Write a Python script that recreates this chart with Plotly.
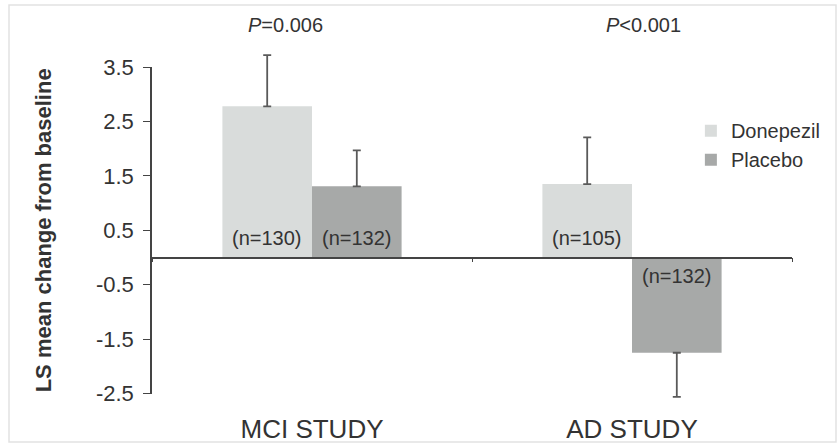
import plotly.graph_objects as go

# Study groups and treatment arms
studies = ["MCI STUDY", "AD STUDY"]
arms = ["Donepezil", "Placebo"]

# LS mean change from baseline per arm (one value per study)
donepezil_mean = [2.78, 1.35]
placebo_mean = [1.31, -1.75]

# One-sided error bar lengths (drawn away from zero)
donepezil_err = [0.94, 0.86]
placebo_err = [0.66, 0.81]

# Sample sizes shown on the bars
donepezil_n = [130, 105]
placebo_n = [132, 132]

# P-values shown above each study
p_labels = ["<i>P</i>=0.006", "<i>P</i><0.001"]

# Y axis ticks
y_ticks = [-2.5, -1.5, -0.5, 0.5, 1.5, 2.5, 3.5]
y_tick_text = ["-2.5", "-1.5", "-0.5", "0.5", "1.5", "2.5", "3.5"]

colors = {"Donepezil": "#d9dcdb", "Placebo": "#a7a9a8"}
text_color = "#333333"
axis_color = "#444444"
font_family = "Arial, Liberation Sans, Helvetica, sans-serif"
bargap = 0.44

# Visible axis spans y_ticks; the plotting range is a little wider so the
# error bars that run past the end ticks are not clipped.
axis_lo, axis_hi = y_ticks[0], y_ticks[-1]
view_lo, view_hi = -2.6, 3.76
span = view_hi - view_lo
axis_domain = [(axis_lo - view_lo) / span, (axis_hi - view_lo) / span]
zero_pos = (0 - view_lo) / span


def one_sided(values, errs):
    up = [e if v >= 0 else 0 for v, e in zip(values, errs)]
    down = [e if v < 0 else 0 for v, e in zip(values, errs)]
    return up, down


fig = go.Figure()

series = [("Donepezil", donepezil_mean, donepezil_err),
          ("Placebo", placebo_mean, placebo_err)]
for name, vals, errs in series:
    up, down = one_sided(vals, errs)
    fig.add_trace(go.Bar(
        name=name,
        x=studies,
        y=vals,
        marker=dict(color=colors[name], line=dict(width=0)),
        error_y=dict(type="data", symmetric=False, array=up, arrayminus=down,
                     color="#5a5a5a", thickness=1.8, width=4),
        legendgroup=name,
    ))

# Hidden traces carrying the zero-line category axis and the visible y axis
fig.add_trace(go.Scatter(x=studies, y=[None, None], xaxis="x2",
                         showlegend=False, hoverinfo="skip"))
fig.add_trace(go.Scatter(x=studies, y=[None, None], yaxis="y2",
                         showlegend=False, hoverinfo="skip"))

# n labels placed at the base of each bar
half = (1 - bargap) / 4
annotations = []
for i in range(len(studies)):
    for offset, vals, ns in ((-half, donepezil_mean, donepezil_n),
                             (half, placebo_mean, placebo_n)):
        pos = vals[i] >= 0
        annotations.append(dict(
            x=i + offset, y=0, xref="x", yref="y",
            text=f"(n={ns[i]})", showarrow=False,
            yanchor="bottom" if pos else "top",
            yshift=7 if pos else -5,
            font=dict(size=20, color=text_color, family=font_family),
        ))

# P-values above the plot
for i, (lbl, shift) in enumerate(zip(p_labels, (-27, 11))):
    annotations.append(dict(
        x=i, y=1.081, xref="x", yref="paper", text=lbl, showarrow=False,
        xshift=shift, yanchor="middle",
        font=dict(size=20, color=text_color, family=font_family),
    ))

fig.update_layout(
    width=840, height=447,
    margin=dict(l=152, r=48, t=53, b=48, autoexpand=False),
    paper_bgcolor="white", plot_bgcolor="rgba(0,0,0,0)",
    barmode="group", bargap=bargap, bargroupgap=0,
    font=dict(family=font_family, color=text_color),
    showlegend=True,
    legend=dict(x=0.842, y=0.832, xanchor="left", yanchor="top",
                font=dict(size=20, color=text_color),
                bgcolor="rgba(0,0,0,0)", traceorder="grouped",
                tracegroupgap=0),
    annotations=annotations,
    xaxis=dict(
        type="category", showline=False, ticks="", showgrid=False,
        tickfont=dict(size=26, color=text_color),
        ticklabelstandoff=12, automargin=False,
    ),
    xaxis2=dict(
        type="category", matches="x", overlaying="x", anchor="free",
        position=zero_pos, showline=True, linecolor=axis_color,
        linewidth=1.5, ticks="outside", tickson="boundaries", ticklen=4,
        tickcolor=axis_color, tickwidth=1, showticklabels=False,
        showgrid=False, automargin=False,
    ),
    yaxis=dict(
        range=[view_lo, view_hi], visible=False, showgrid=False,
        zeroline=False, automargin=False,
    ),
    yaxis2=dict(
        domain=axis_domain, anchor="x",
        range=[axis_lo, axis_hi],
        tickvals=y_ticks, ticktext=y_tick_text,
        showline=True, linecolor=axis_color, linewidth=1.5,
        ticks="outside", ticklen=7, tickcolor=axis_color, tickwidth=1.2,
        showgrid=False, zeroline=False, automargin=False,
        tickfont=dict(size=22, color=text_color),
        ticklabelstandoff=5,
        title=dict(text="<b>LS mean change from baseline</b>",
                   font=dict(size=22, color=text_color), standoff=38),
    ),
    shapes=[dict(type="rect", xref="paper", yref="paper",
                 x0=(9 - 152) / 640, x1=(836 - 152) / 640,
                 y0=(399 - 442) / 346, y1=(399 - 5) / 346,
                 line=dict(color="#e2e2e2", width=1.5), layer="below")],
)

fig.write_html("out.html")
